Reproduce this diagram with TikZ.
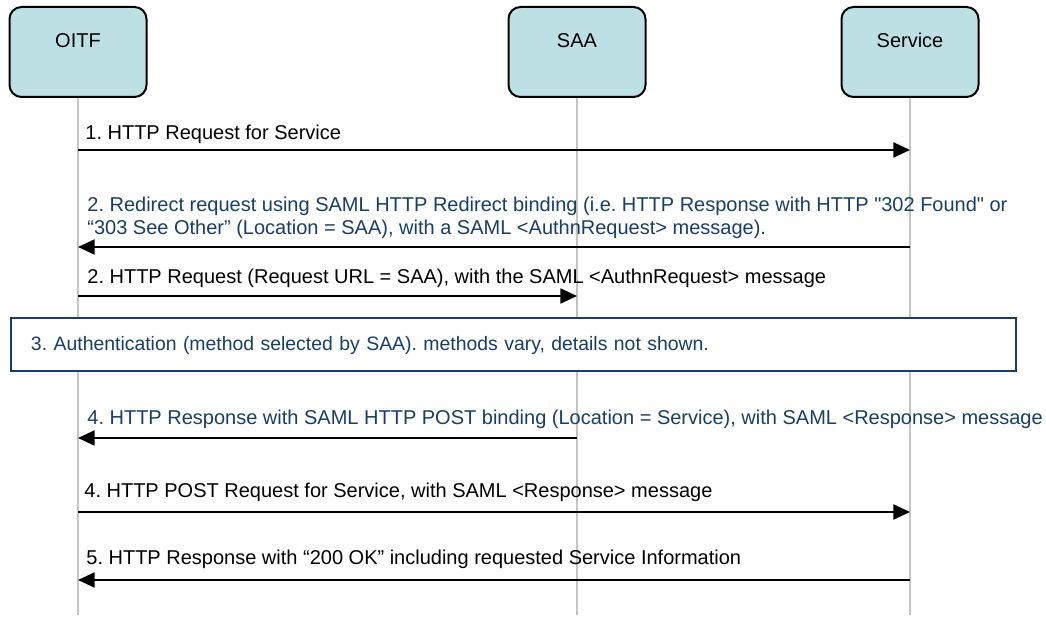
\documentclass[tikz,border=0pt]{standalone}
\usepackage{fontspec}
\setmainfont{Liberation Sans}[Ligatures=TeXOff]
\usetikzlibrary{arrows.meta,calc}
\frenchspacing
\definecolor{actorfill}{RGB}{189,224,228}
\definecolor{noteblue}{RGB}{24,62,104}
\definecolor{lifegray}{RGB}{196,196,196}
\tikzset{
	actor/.style={draw,line width=1pt,rounded corners=6pt,fill=actorfill,minimum width=68.5pt,minimum height=45pt,text height=8pt,text depth=12.8pt,inner sep=0pt,font=\fontsize{10}{12}\selectfont},
	lifeline/.style={draw=lifegray,line width=0.8pt},
	msg/.style={line width=1pt,-{Triangle[length=8.3pt,width=7.5pt]}},
	lbl/.style={anchor=base west,inner sep=0pt,align=left,font=\fontsize{10}{11.5}\selectfont},
	note/.style={draw=noteblue,line width=1pt,fill=white,text=noteblue,minimum height=26.5pt,text width=482.5pt,inner xsep=10pt,align=left,font=\fontsize{9.7}{12}\selectfont}
}
\begin{document}
\begin{tikzpicture}[x=0.5pt,y=-0.5pt]
	\useasboundingbox (0,0) rectangle (1046,619);
	
	\node[actor] (oitf) at (78,52) {OITF};
	\node[actor] (saa) at (577,52) {SAA};
	\node[actor] (service) at (910,52) {Service};
	
	\coordinate (bottom) at (0,615);
	\draw[lifeline] (oitf) -- (oitf |- bottom);
	\draw[lifeline] (saa) -- (saa |- bottom);
	\draw[lifeline] (service) -- (service |- bottom);
	
	\coordinate (r1) at (0,150);
	\coordinate (r2) at (0,247);
	\coordinate (r3) at (0,296);
	\coordinate (r4) at (0,438);
	\coordinate (r5) at (0,512);
	\coordinate (r6) at (0,580);
	
	\draw[msg] (oitf |- r1) -- (service |- r1);
	\node[lbl] (m1) at ($(oitf |- r1)+(7,-10)$) {1. HTTP Request for Service};
	
	\draw[msg] (service |- r2) -- (oitf |- r2);
	\node[lbl,text=noteblue] (m2) at ($(oitf |- r2)+(9,-12)$) {2. Redirect request using SAML HTTP Redirect binding (i.e. HTTP Response with HTTP "302 Found" or\\“303 See Other” (Location = SAA), with a SAML <AuthnRequest> message).};
	
	\draw[msg] (oitf |- r3) -- (saa |- r3);
	\node[lbl] (m3) at ($(oitf |- r3)+(9,-12)$) {2. HTTP Request (Request URL = SAA), with the SAML <AuthnRequest> message};
	
	\node[note] (auth) at (513.5,345) {3. Authentication (method selected by SAA). methods vary, details not shown.};
	
	\draw[msg] (saa |- r4) -- (oitf |- r4);
	\node[lbl,text=noteblue] (m4) at ($(oitf |- r4)+(9,-13)$) {4. HTTP Response with SAML HTTP POST binding (Location = Service), with SAML <Response> message};
	
	\draw[msg] (oitf |- r5) -- (service |- r5);
	\node[lbl] (m5) at ($(oitf |- r5)+(6,-14)$) {4. HTTP POST Request for Service, with SAML <Response> message};
	
	\draw[msg] (service |- r6) -- (oitf |- r6);
	\node[lbl] (m6) at ($(oitf |- r6)+(8,-15)$) {5. HTTP Response with “200 OK” including requested Service Information};
\end{tikzpicture}
\end{document}
